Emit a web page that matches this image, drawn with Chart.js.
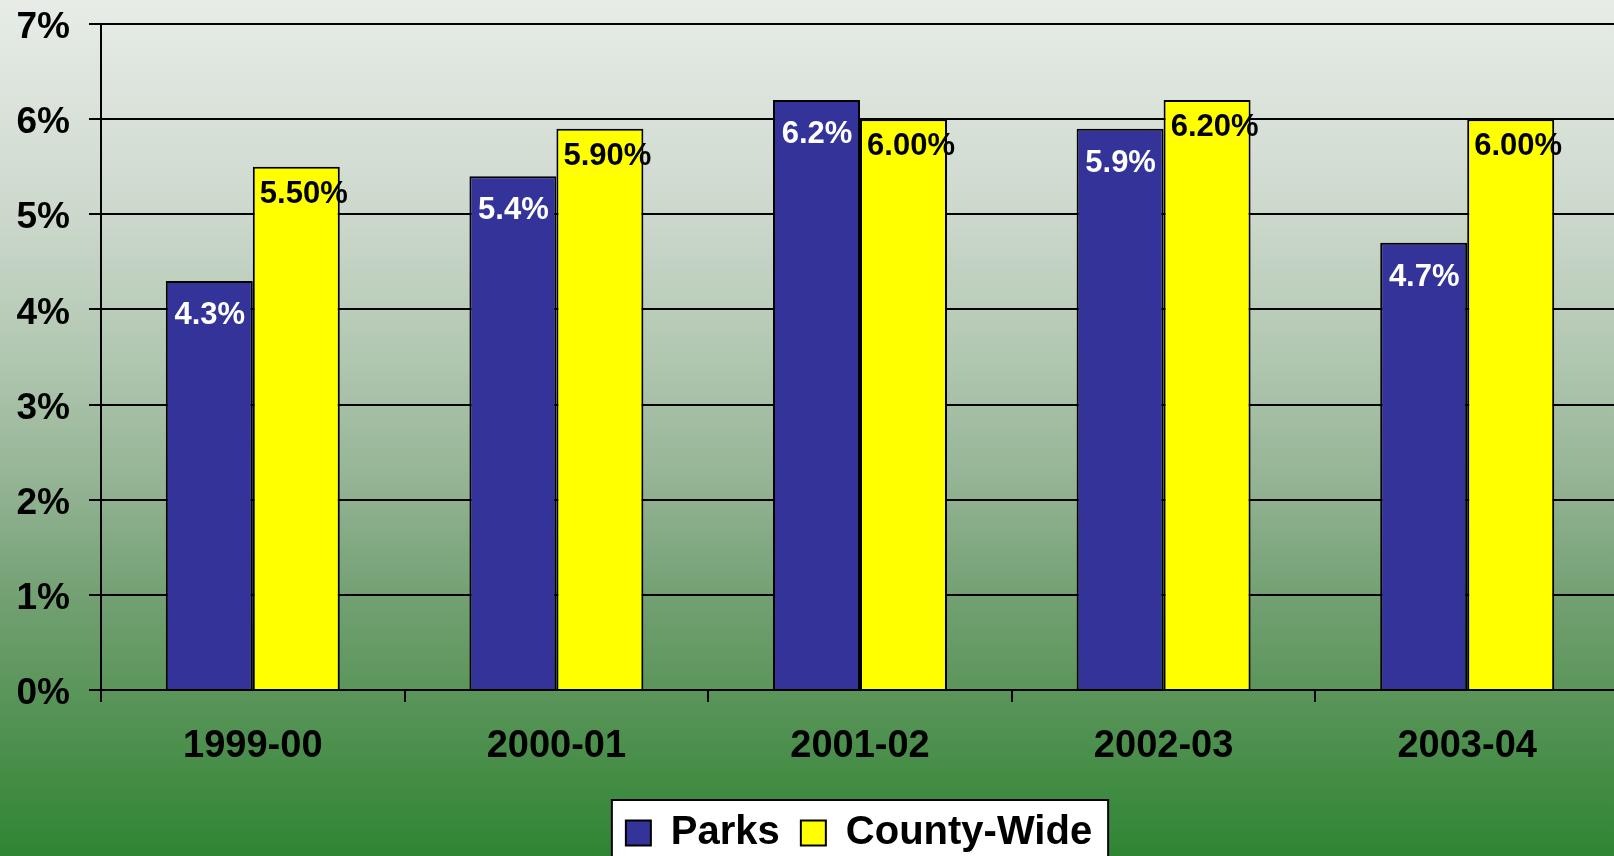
<!DOCTYPE html>
<html>
<head>
<meta charset="utf-8">
<script src="https://cdn.jsdelivr.net/npm/chart.js@4/dist/chart.umd.min.js"></script>
<style>
  html, body { margin: 0; padding: 0; overflow: hidden; background: #2f8533; }
  #wrap { width: 1614px; height: 856px; overflow: hidden; position: relative; }
  canvas { display: block; }
</style>
</head>
<body>
<div id="wrap"><canvas id="c" width="1718" height="863" style="width:1718px;height:863px"></canvas></div>
<script>
// ---- data ----
const categories = ['1999-00', '2000-01', '2001-02', '2002-03', '2003-04'];
const parks = [4.3, 5.4, 6.2, 5.9, 4.7];
const countyWide = [5.5, 5.9, 6.0, 6.2, 6.0];
const parksLabels = ['4.3%', '5.4%', '6.2%', '5.9%', '4.7%'];
const countyLabels = ['5.50%', '5.90%', '6.00%', '6.20%', '6.00%'];
const yTicks = ['0%', '1%', '2%', '3%', '4%', '5%', '6%', '7%'];

const FONT = '"Liberation Sans", Arial, Helvetica, sans-serif';

const bgPlugin = {
  id: 'bg',
  beforeDraw(chart) {
    const ctx = chart.ctx;
    const H = 856;
    const g = ctx.createLinearGradient(0, 0, 0, H);
    g.addColorStop(0.00, '#e7ece7');
    g.addColorStop(0.23, '#cfdacf');
    g.addColorStop(0.41, '#b2c8b2');
    g.addColorStop(0.56, '#95b495');
    g.addColorStop(0.70, '#72a072');
    g.addColorStop(0.82, '#589458');
    g.addColorStop(1.00, '#2f8533');
    ctx.save();
    ctx.fillStyle = g;
    ctx.fillRect(0, 0, chart.width, chart.height);
    // legend frame
    const lg = chart.legend;
    if (lg && lg.legendHitBoxes && lg.legendHitBoxes.length) {
      const hbs = lg.legendHitBoxes;
      let l = Infinity, r = -Infinity, t = Infinity;
      hbs.forEach(h => { l = Math.min(l, h.left); r = Math.max(r, h.left + h.width); t = Math.min(t, h.top); });
      ctx.fillStyle = '#ffffff';
      ctx.strokeStyle = '#000000';
      ctx.lineWidth = 2;
      const x0 = l - 14, x1 = r + 16, y0 = t - 13, y1 = chart.height + 10;
      ctx.fillRect(x0, y0, x1 - x0, y1 - y0);
      ctx.strokeRect(x0, y0, x1 - x0, y1 - y0);
    }
    ctx.restore();
  }
};

const labelPlugin = {
  id: 'valueLabels',
  afterDatasetsDraw(chart) {
    const ctx = chart.ctx;
    ctx.save();
    ctx.font = 'bold 31px ' + FONT;
    ctx.textAlign = 'center';
    ctx.textBaseline = 'alphabetic';
    const cfg = [
      { texts: parksLabels, color: '#ffffff', dx: 0.5, dy: 43 },
      { texts: countyLabels, color: '#000000', dx: 7.5, dy: 36 }
    ];
    chart.data.datasets.forEach((ds, di) => {
      const meta = chart.getDatasetMeta(di);
      const c = cfg[di];
      ctx.fillStyle = c.color;
      meta.data.forEach((el, i) => {
        ctx.fillText(c.texts[i], el.x + c.dx, el.y + c.dy);
      });
    });
    ctx.restore();
  }
};

new Chart(document.getElementById('c'), {
  type: 'bar',
  data: {
    labels: categories,
    datasets: [
      { label: 'Parks', data: parks, backgroundColor: '#333399', borderColor: '#000000', borderWidth: 2 },
      { label: 'County-Wide', data: countyWide, backgroundColor: '#ffff00', borderColor: '#000000', borderWidth: 2 }
    ]
  },
  options: {
    responsive: false,
    animation: false,
    devicePixelRatio: 1,
    categoryPercentage: 0.573,
    barPercentage: 1.0,
    layout: { padding: { top: 24, left: 0, right: 0, bottom: 0 } },
    plugins: {
      tooltip: { enabled: false },
      legend: {
        position: 'bottom',
        labels: {
          color: '#000000',
          font: { family: FONT, size: 40, weight: 'bold' },
          boxWidth: 25,
          boxHeight: 25,
          padding: 21
        }
      }
    },
    scales: {
      x: {
        grid: { display: true, drawOnChartArea: false, drawTicks: true, tickLength: 12, color: '#000000', lineWidth: 2, offset: true },
        border: { display: true, color: '#000000', width: 2 },
        ticks: { color: '#000000', font: { family: FONT, size: 38, weight: 'bold' }, padding: 22, maxRotation: 0 },
        afterFit(s) { s.height = 102; }
      },
      y: {
        min: 0, max: 7,
        ticks: {
          stepSize: 1,
          color: '#000000',
          font: { family: FONT, size: 37, weight: 'bold', lineHeight: 0.25 },
          padding: 19,
          labelOffset: 4,
          callback: (v) => yTicks[Math.round(v)]
        },
        grid: { color: '#000000', lineWidth: 2, drawTicks: true, tickLength: 12 },
        border: { display: true, color: '#000000', width: 2 },
        afterFit(s) { s.width = 101; }
      },
      yPad: {
        position: 'right',
        display: true,
        grid: { display: false },
        border: { display: false },
        ticks: { display: false },
        afterFit(s) { s.width = 99; }
      }
    }
  },
  plugins: [bgPlugin, labelPlugin]
});
</script>
</body>
</html>
